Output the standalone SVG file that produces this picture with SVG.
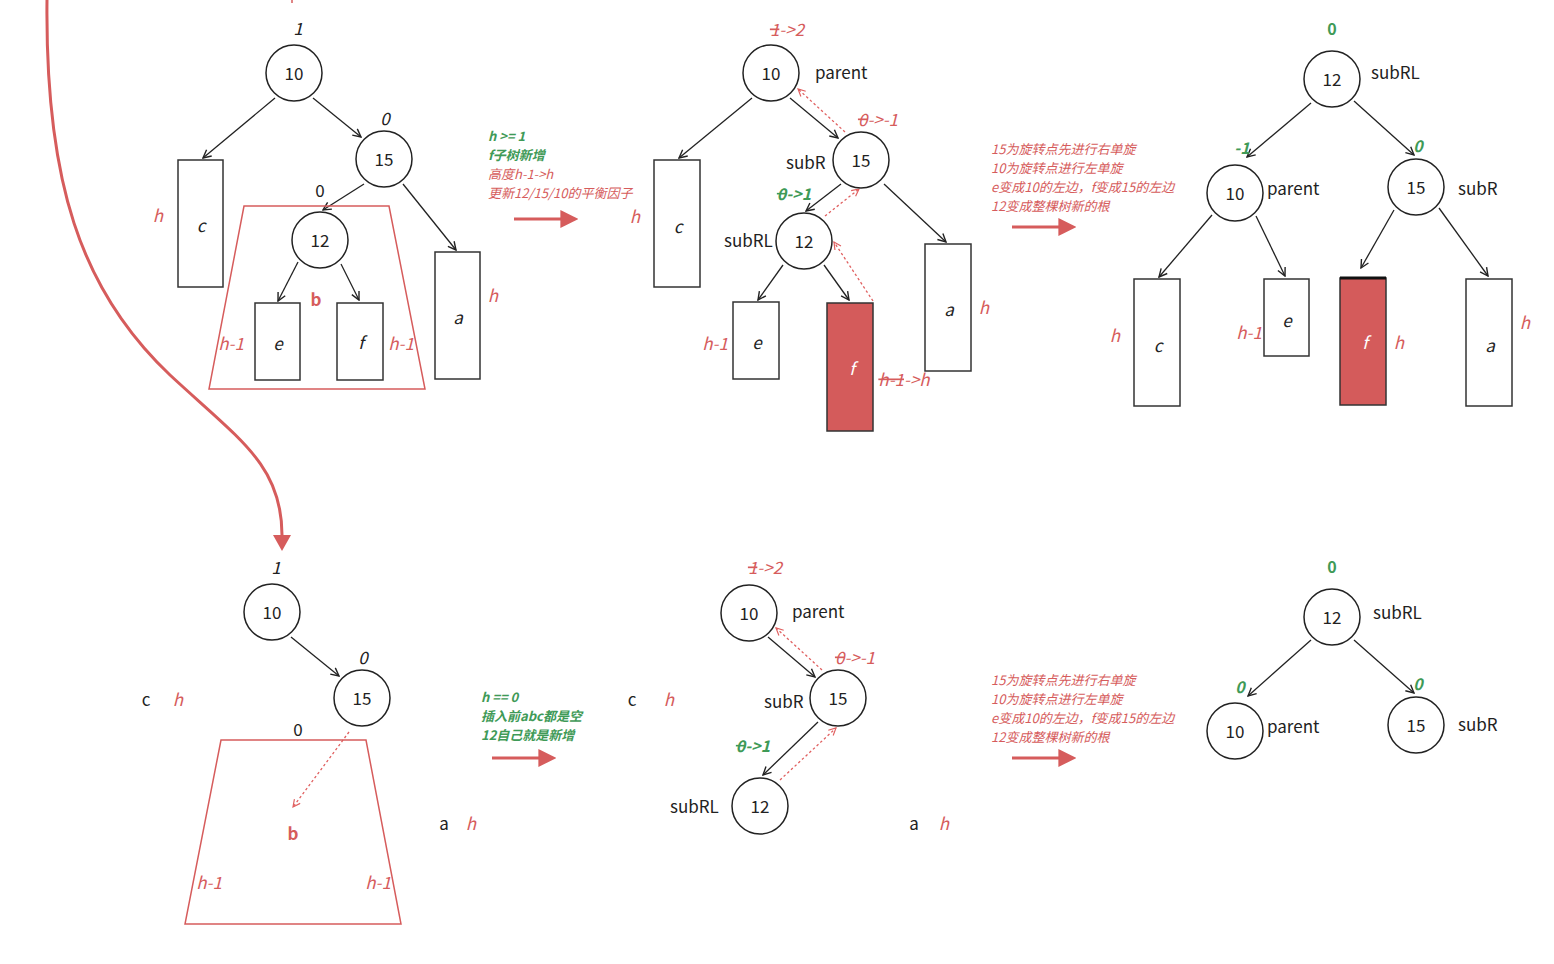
<svg xmlns="http://www.w3.org/2000/svg" width="1554" height="964" viewBox="0 0 1554 964">
<style>
text{font-family:"Noto Sans CJK SC","Noto Sans",sans-serif;}
.n{font-size:17px;fill:#222;text-anchor:middle;dominant-baseline:central;}
.lb{font-size:17px;fill:#222;dominant-baseline:central;}
.it{font-size:17px;fill:#222;font-style:italic;text-anchor:middle;dominant-baseline:central;}
.r{font-size:17px;fill:#d65c5c;font-style:italic;text-anchor:middle;dominant-baseline:central;}
.g{font-size:16px;fill:#3f9a57;font-style:italic;font-weight:bold;text-anchor:middle;dominant-baseline:central;}
.gb{font-size:16px;fill:#3f9a57;font-weight:bold;text-anchor:middle;dominant-baseline:central;}
.bb{font-size:17px;fill:#d65c5c;font-weight:bold;text-anchor:middle;dominant-baseline:central;}
.nt{font-size:13px;font-style:italic;}
.ntr{fill:#d65c5c;}
.ntg{fill:#3f9a57;font-weight:bold;}
.st{text-decoration:line-through;}
circle.c{fill:#fff;stroke:#222;stroke-width:1.5;}
rect.b{fill:#fff;stroke:#333;stroke-width:1.5;}
rect.fr{fill:#d45b5b;stroke:#333;stroke-width:1.5;}
.e{stroke:#222;stroke-width:1.3;fill:none;marker-end:url(#ah);}
.d{stroke:#e06060;stroke-width:1.3;stroke-dasharray:2.5 2.5;fill:none;marker-end:url(#ahr);}
.tz{fill:none;stroke:#d65c5c;stroke-width:1.5;}
.big{stroke:#d65c5c;stroke-width:3;fill:none;}
</style>
<defs>
<marker id="ah" viewBox="0 0 10 10" refX="9" refY="5" markerWidth="10" markerHeight="10" markerUnits="userSpaceOnUse" orient="auto">
<path d="M1,1 L9,5 L1,9" fill="none" stroke="#222" stroke-width="1.4"/>
</marker>
<marker id="ahr" viewBox="0 0 10 10" refX="9" refY="5" markerWidth="9" markerHeight="9" markerUnits="userSpaceOnUse" orient="auto">
<path d="M1,1 L9,5 L1,9" fill="none" stroke="#e06060" stroke-width="1.3"/>
</marker>
<marker id="big" viewBox="0 0 10 10" refX="2" refY="5" markerWidth="18" markerHeight="18" markerUnits="userSpaceOnUse" orient="auto">
<path d="M0,0 L10,5 L0,10 Z" fill="#d65c5c"/>
</marker>
</defs>

<g id="connectors">
<path class="big" d="M47,0 C45,180 80,290 170,375 C240,440 282,465 282,535"/>
<path d="M273,535 L291,535 L282,551 Z" fill="#d65c5c"/>
<line x1="292" y1="0" x2="292" y2="3" stroke="#d65c5c" stroke-width="1.5"/>
<line class="e" x1="275" y1="98" x2="203" y2="158"/>
<line class="e" x1="313" y1="98" x2="361" y2="137"/>
<line class="e" x1="364" y1="184" x2="323" y2="210"/>
<line class="e" x1="403" y1="184" x2="456" y2="250"/>
<line class="e" x1="298" y1="262" x2="278" y2="301"/>
<line class="e" x1="341" y1="264" x2="359" y2="300"/>
<line class="e" x1="752" y1="98" x2="679" y2="158"/>
<line class="e" x1="790" y1="98" x2="838" y2="138"/>
<line class="e" x1="841" y1="184" x2="806" y2="211"/>
<line class="e" x1="884" y1="184" x2="946" y2="242"/>
<line class="e" x1="783" y1="265" x2="758" y2="300"/>
<line class="e" x1="824" y1="265" x2="849" y2="300"/>
<line class="d" x1="873" y1="301" x2="834" y2="242"/>
<line class="d" x1="825" y1="216" x2="859" y2="189"/>
<line class="d" x1="845" y1="132" x2="798" y2="89"/>
<line class="e" x1="1311" y1="103" x2="1247" y2="157"/>
<line class="e" x1="1354" y1="101" x2="1414" y2="155"/>
<line class="e" x1="1212" y1="215" x2="1159" y2="277"/>
<line class="e" x1="1256" y1="216" x2="1285" y2="276"/>
<line class="e" x1="1394" y1="210" x2="1361" y2="268"/>
<line class="e" x1="1439" y1="208" x2="1488" y2="276"/>
<line class="e" x1="291" y1="637" x2="339" y2="676"/>
<line class="d" x1="349" y1="732" x2="293" y2="807"/>
<line class="e" x1="768" y1="637" x2="815" y2="677"/>
<line class="e" x1="818" y1="722" x2="763" y2="775"/>
<line class="d" x1="822" y1="670" x2="776" y2="628"/>
<line class="d" x1="780" y1="780" x2="836" y2="728"/>
<line class="e" x1="1311" y1="640" x2="1248" y2="696"/>
<line class="e" x1="1354" y1="640" x2="1414" y2="693"/>
<line class="big" x1="514" y1="219" x2="564" y2="219" marker-end="url(#big)"/>
<line class="big" x1="1012" y1="227" x2="1062" y2="227" marker-end="url(#big)"/>
<line class="big" x1="492" y1="758" x2="542" y2="758" marker-end="url(#big)"/>
<line class="big" x1="1012" y1="758" x2="1062" y2="758" marker-end="url(#big)"/>
</g>

<g id="t1-b">
<polygon class="tz" points="244,206 389,206 425,389 209,389"/>
<text class="bb" x="316" y="298">b</text>
<text class="r" x="231" y="342">h-1</text>
<text class="r" x="401" y="342">h-1</text>
</g>
<g id="t1-n10"><circle class="c" cx="294" cy="73" r="28"/><text class="n" x="294" y="72">10</text><text class="it" x="298" y="27">1</text></g>
<g id="t1-n15"><circle class="c" cx="384" cy="159" r="28"/><text class="n" x="384" y="158">15</text><text class="it" x="385" y="117">0</text></g>
<g id="t1-n12"><circle class="c" cx="320" cy="240" r="28"/><text class="n" x="320" y="239">12</text><text class="n" x="320" y="189">0</text></g>
<g id="t1-c"><rect class="b" x="178" y="160" width="45" height="127"/><text class="it" x="201" y="224">c</text><text class="r" x="158" y="214">h</text></g>
<g id="t1-e"><rect class="b" x="255" y="303" width="45" height="77"/><text class="it" x="278" y="342">e</text></g>
<g id="t1-f"><rect class="b" x="337" y="303" width="46" height="77"/><text class="it" x="361" y="341">f</text></g>
<g id="t1-a"><rect class="b" x="435" y="252" width="45" height="127"/><text class="it" x="458" y="316">a</text><text class="r" x="493" y="294">h</text></g>

<g id="note1">
<text x="488" y="141" class="nt ntg">h &gt;= 1</text>
<text x="488" y="160" class="nt ntg">f子树新增</text>
<text x="488" y="179" class="nt ntr">高度h-1-&gt;h</text>
<text x="488" y="198" class="nt ntr">更新12/15/10的平衡因子</text>
</g>

<g id="t2-n10"><circle class="c" cx="771" cy="73" r="28"/><text class="n" x="771" y="72">10</text><text class="lb" x="815" y="71">parent</text><text class="r" x="787" y="28"><tspan class="st">1</tspan>-&gt;2</text></g>
<g id="t2-n15"><circle class="c" cx="861" cy="160" r="28"/><text class="n" x="861" y="159">15</text><text class="lb" x="786" y="161">subR</text><text class="r" x="878" y="118"><tspan class="st">0</tspan>-&gt;-1</text></g>
<g id="t2-n12"><circle class="c" cx="804" cy="241" r="28"/><text class="n" x="804" y="240">12</text><text class="lb" x="724" y="239">subRL</text><text class="g" x="794" y="193"><tspan class="st">0</tspan>-&gt;1</text></g>
<g id="t2-c"><rect class="b" x="654" y="160" width="46" height="127"/><text class="it" x="678" y="225">c</text><text class="r" x="635" y="215">h</text></g>
<g id="t2-e"><rect class="b" x="733" y="302" width="46" height="77"/><text class="it" x="757" y="341">e</text><text class="r" x="715" y="342">h-1</text></g>
<g id="t2-f"><rect class="fr" x="827" y="303" width="46" height="128"/><text class="it" x="852" y="367" style="fill:#fff">f</text><text class="r" x="904" y="378"><tspan class="st">h-1</tspan>-&gt;h</text></g>
<g id="t2-a"><rect class="b" x="925" y="244" width="46" height="127"/><text class="it" x="949" y="308">a</text><text class="r" x="984" y="306">h</text></g>

<g id="note2">
<text x="991" y="154" class="nt ntr">15为旋转点先进行右单旋</text>
<text x="991" y="173" class="nt ntr">10为旋转点进行左单旋</text>
<text x="991" y="192" class="nt ntr">e变成10的左边，f变成15的左边</text>
<text x="991" y="211" class="nt ntr">12变成整棵树新的根</text>
</g>

<g id="t3-n12"><circle class="c" cx="1332" cy="79" r="28"/><text class="n" x="1332" y="78">12</text><text class="lb" x="1371" y="71">subRL</text><text class="gb" x="1332" y="28">0</text></g>
<g id="t3-n10"><circle class="c" cx="1235" cy="193" r="28"/><text class="n" x="1235" y="192">10</text><text class="lb" x="1267" y="187">parent</text><text class="g" x="1242" y="147">-1</text></g>
<g id="t3-n15"><circle class="c" cx="1416" cy="187" r="28"/><text class="n" x="1416" y="186">15</text><text class="lb" x="1458" y="187">subR</text><text class="g" x="1418" y="145">0</text></g>
<g id="t3-c"><rect class="b" x="1134" y="279" width="46" height="127"/><text class="it" x="1158" y="344">c</text><text class="r" x="1115" y="334">h</text></g>
<g id="t3-e"><rect class="b" x="1264" y="279" width="45" height="77"/><text class="it" x="1287" y="319">e</text><text class="r" x="1249" y="331">h-1</text></g>
<g id="t3-f"><rect class="fr" x="1340" y="278" width="46" height="127"/><line x1="1340" y1="278" x2="1386" y2="278" stroke="#111" stroke-width="3"/><text class="it" x="1365" y="341" style="fill:#fff">f</text><text class="r" x="1399" y="341">h</text></g>
<g id="t3-a"><rect class="b" x="1466" y="279" width="46" height="127"/><text class="it" x="1490" y="344">a</text><text class="r" x="1525" y="321">h</text></g>

<g id="t4-b">
<polygon class="tz" points="221,740 366,740 401,924 185,924"/>
<text class="bb" x="293" y="832">b</text>
<text class="r" x="209" y="881">h-1</text>
<text class="r" x="378" y="881">h-1</text>
<text class="n" x="298" y="728">0</text>
</g>
<g id="t4-n10"><circle class="c" cx="272" cy="612" r="28"/><text class="n" x="272" y="611">10</text><text class="it" x="276" y="566">1</text></g>
<g id="t4-n15"><circle class="c" cx="362" cy="698" r="28"/><text class="n" x="362" y="697">15</text><text class="it" x="363" y="656">0</text></g>
<g id="t4-c"><text class="lb" x="146" y="698" text-anchor="middle">c</text><text class="r" x="178" y="698">h</text></g>
<g id="t4-a"><text class="lb" x="444" y="822" text-anchor="middle">a</text><text class="r" x="471" y="822">h</text></g>

<g id="note3">
<text x="481" y="702" class="nt ntg">h == 0</text>
<text x="481" y="721" class="nt ntg">插入前abc都是空</text>
<text x="481" y="740" class="nt ntg">12自己就是新增</text>
</g>

<g id="t5-n10"><circle class="c" cx="749" cy="613" r="28"/><text class="n" x="749" y="612">10</text><text class="lb" x="792" y="610">parent</text><text class="r" x="765" y="566"><tspan class="st">1</tspan>-&gt;2</text></g>
<g id="t5-n15"><circle class="c" cx="838" cy="698" r="28"/><text class="n" x="838" y="697">15</text><text class="lb" x="764" y="700">subR</text><text class="r" x="855" y="656"><tspan class="st">0</tspan>-&gt;-1</text></g>
<g id="t5-n12"><circle class="c" cx="760" cy="806" r="28"/><text class="n" x="760" y="805">12</text><text class="lb" x="670" y="805">subRL</text><text class="g" x="753" y="745"><tspan class="st">0</tspan>-&gt;1</text></g>
<g id="t5-c"><text class="lb" x="632" y="698" text-anchor="middle">c</text><text class="r" x="669" y="698">h</text></g>
<g id="t5-a"><text class="lb" x="914" y="822" text-anchor="middle">a</text><text class="r" x="944" y="822">h</text></g>

<g id="note4">
<text x="991" y="685" class="nt ntr">15为旋转点先进行右单旋</text>
<text x="991" y="704" class="nt ntr">10为旋转点进行左单旋</text>
<text x="991" y="723" class="nt ntr">e变成10的左边，f变成15的左边</text>
<text x="991" y="742" class="nt ntr">12变成整棵树新的根</text>
</g>

<g id="t6-n12"><circle class="c" cx="1332" cy="617" r="28"/><text class="n" x="1332" y="616">12</text><text class="lb" x="1373" y="611">subRL</text><text class="gb" x="1332" y="566">0</text></g>
<g id="t6-n10"><circle class="c" cx="1235" cy="731" r="28"/><text class="n" x="1235" y="730">10</text><text class="lb" x="1267" y="725">parent</text><text class="g" x="1240" y="686">0</text></g>
<g id="t6-n15"><circle class="c" cx="1416" cy="725" r="28"/><text class="n" x="1416" y="724">15</text><text class="lb" x="1458" y="723">subR</text><text class="g" x="1418" y="683">0</text></g>
</svg>
